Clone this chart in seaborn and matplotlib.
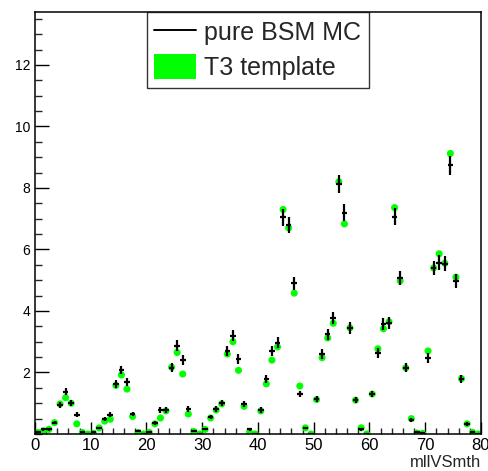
import numpy as np
import pandas as pd
import matplotlib
matplotlib.use("Agg")
import matplotlib.pyplot as plt
import matplotlib.patches as mpatches
from matplotlib.lines import Line2D
from matplotlib.ticker import MultipleLocator
import seaborn as sns

# bin edges 0..80, width 1
bin_lo = np.arange(0, 80)

bsm_mc = [0.05, 0.15, 0.15, 0.37, 0.93, 1.38, 1.00, 0.62, 0.08, 0.00,
          0.05, 0.20, 0.48, 0.62, 1.63, 2.08, 1.70, 0.65, 0.10, 0.00,
          0.06, 0.36, 0.78, 0.78, 2.15, 2.87, 2.41, 0.81, 0.10, 0.00,
          0.17, 0.55, 0.82, 1.00, 2.70, 3.20, 2.45, 0.97, 0.15, 0.00,
          0.78, 1.80, 2.70, 2.97, 7.04, 6.78, 4.90, 1.30, 0.20, 0.00,
          1.14, 2.60, 3.25, 3.78, 8.13, 7.20, 3.45, 1.10, 0.15, 0.00,
          1.30, 2.63, 3.57, 3.62, 7.07, 5.08, 2.15, 0.45, 0.05, 0.03,
          2.48, 5.41, 5.57, 5.54, 8.73, 4.98, 1.80, 0.33, 0.05, 0.00]

bsm_err = [0.02, 0.04, 0.04, 0.06, 0.10, 0.12, 0.10, 0.08, 0.03, 0.00,
           0.02, 0.04, 0.07, 0.08, 0.13, 0.14, 0.13, 0.08, 0.03, 0.00,
           0.02, 0.06, 0.09, 0.09, 0.15, 0.17, 0.16, 0.09, 0.03, 0.00,
           0.04, 0.07, 0.09, 0.10, 0.16, 0.18, 0.16, 0.10, 0.04, 0.00,
           0.09, 0.13, 0.16, 0.17, 0.27, 0.26, 0.22, 0.11, 0.04, 0.00,
           0.11, 0.16, 0.18, 0.19, 0.29, 0.27, 0.19, 0.10, 0.04, 0.00,
           0.11, 0.16, 0.19, 0.19, 0.27, 0.23, 0.15, 0.07, 0.02, 0.02,
           0.16, 0.23, 0.24, 0.24, 0.30, 0.22, 0.13, 0.06, 0.02, 0.00]

t3_template = [0.05, 0.10, 0.15, 0.37, 0.98, 1.18, 1.00, 0.33, 0.05, 0.00,
               0.02, 0.20, 0.42, 0.48, 1.58, 1.92, 1.46, 0.57, 0.05, 0.00,
               0.05, 0.33, 0.52, 0.75, 2.17, 2.65, 1.95, 0.65, 0.08, 0.00,
               0.15, 0.52, 0.78, 0.98, 2.60, 3.00, 2.07, 0.90, 0.05, 0.00,
               0.75, 1.63, 2.40, 2.83, 7.30, 6.70, 4.58, 1.56, 0.20, 0.00,
               1.12, 2.48, 3.12, 3.60, 8.20, 6.83, 3.45, 1.10, 0.20, 0.00,
               1.30, 2.77, 3.42, 3.65, 7.36, 4.98, 2.15, 0.50, 0.03, 0.02,
               2.70, 5.40, 5.86, 5.55, 9.12, 5.10, 1.80, 0.33, 0.05, 0.00]

df = pd.DataFrame({"x": bin_lo + 0.5, "mc": bsm_mc, "err": bsm_err, "t3": t3_template})

sns.set_style("white")
plt.rcParams["font.family"] = ["Liberation Sans", "DejaVu Sans"]

fig = plt.figure(figsize=(4.89, 4.71), dpi=100)
ax = fig.add_axes([35 / 489, 37 / 471, 446 / 489, 422 / 471])

sns.scatterplot(data=df, x="x", y="t3", ax=ax, color="#00ff00", s=26,
                edgecolor="none", zorder=2, legend=False)
ax.errorbar(df["x"], df["mc"], yerr=df["err"], xerr=0.5, fmt="none",
            ecolor="black", elinewidth=1.6, capsize=0, zorder=3)

ax.set_xlim(0, 80)
ax.set_ylim(0, 13.72)
ax.set_xticks([0, 10, 20, 30, 40, 50, 60, 70, 80])
ax.xaxis.set_minor_locator(MultipleLocator(2))
ax.set_yticks([2, 4, 6, 8, 10, 12])
ax.yaxis.set_minor_locator(MultipleLocator(0.5))
ax.tick_params(axis="x", which="major", direction="in", length=9, width=1,
               labelsize=12, pad=3, colors="black")
ax.tick_params(axis="x", which="minor", direction="in", length=4.5, width=1)
ax.tick_params(axis="y", which="major", direction="in", length=10, width=1,
               labelsize=10, pad=3.5, colors="black")
ax.tick_params(axis="y", which="minor", direction="in", length=5, width=1)
ax.tick_params(bottom=True, left=True, top=False, right=False, which="both")
for sp in ax.spines.values():
    sp.set_color("black")
    sp.set_linewidth(1.1)

ax.set_xlabel("")
ax.set_ylabel("")
fig.text(481 / 489, 1 / 471, "mllVSmth", ha="right", va="bottom", fontsize=12)

handles = [Line2D([], [], color="black", lw=1.4),
           mpatches.Patch(facecolor="#00ff00", edgecolor="none")]
leg = ax.legend(handles, ["pure BSM MC", "T3 template"], loc="upper left",
                bbox_to_anchor=(0.251, 1.0), borderaxespad=0, fontsize=18,
                frameon=True, fancybox=False, edgecolor="black",
                handlelength=1.65, handleheight=1.15, handletextpad=0.35,
                labelspacing=0.35, borderpad=0.3)
leg.get_frame().set_linewidth(1.0)

fig.savefig("out.png", dpi=100)
